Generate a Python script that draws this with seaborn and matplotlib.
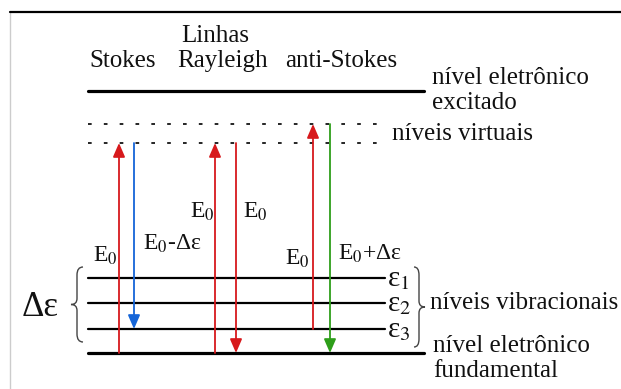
import matplotlib
matplotlib.use("Agg")
import matplotlib.pyplot as plt
from matplotlib.path import Path
from matplotlib.patches import PathPatch
from matplotlib import font_manager
import seaborn as sns
import pandas as pd

# ---------------- data (diagram units: pixels of the drawing canvas) -------------
excited_level = 91          # nível eletrônico excitado
virtual_levels = [124, 143]  # níveis virtuais
vib_levels = [278, 303, 329]  # ε1, ε2, ε3
vib_labels = ["ε$_1$", "ε$_2$", "ε$_3$"]
ground_level = 353          # nível eletrônico fundamental

# transitions: x column, start level, end level, colour, label
trans_x = [119, 134, 215, 236, 313, 330]
trans_from = [353, 143, 353, 143, 329, 124]
trans_to = [143, 329, 143, 353, 124, 353]
trans_color = ["#d7191c", "#1565d8", "#d7191c", "#d7191c", "#d7191c", "#2e9e1a"]
trans_label = ["E$_0$", "E$_0$-Δε", "E$_0$", "E$_0$", "E$_0$", "E$_0$+Δε"]

header_labels = ["Stokes", "Rayleigh", "anti-Stokes"]

# ---------------- figure ----------------------------------------------------------
sns.set_theme(style="white")
avail = {f.name for f in font_manager.fontManager.ttflist}
FAM = [f for f in ["Liberation Serif", "STIXGeneral", "DejaVu Serif"] if f in avail]
plt.rcParams["font.family"] = FAM
plt.rcParams["mathtext.fontset"] = "stix"

fig = plt.figure(figsize=(6.21, 3.89), dpi=100)
ax = fig.add_axes([0, 0, 1, 1])
ax.set_xlim(0, 621)
ax.set_ylim(389, 0)
ax.axis("off")


def txt(x, y, s, size, **kw):
    kw.setdefault("ha", "left")
    kw.setdefault("va", "baseline")
    ax.text(x, y, s, fontsize=size, family=FAM, color="#111111", **kw)


# frame (left + top only visible)
sns.lineplot(x=[10, 10], y=[12, 389], ax=ax, color="black", linewidth=1.6, sort=False)
sns.lineplot(x=[10, 621], y=[12, 12], ax=ax, color="black", linewidth=1.6, sort=False)

# electronic levels
for y in [excited_level, ground_level]:
    sns.lineplot(x=[88, 424], y=[y, y], ax=ax, color="black", linewidth=2.3)

# virtual levels (dotted)
for y in virtual_levels:
    ax.plot([88, 384], [y, y], color="black", linewidth=1.2, linestyle=(0, (2.2, 7.3)))

# vibrational levels
df_vib = pd.DataFrame({
    "x": [88, 385] * len(vib_levels),
    "y": [v for v in vib_levels for _ in range(2)],
    "lvl": [i for i in range(len(vib_levels)) for _ in range(2)],
})
sns.lineplot(data=df_vib, x="x", y="y", units="lvl", estimator=None, ax=ax,
             color="black", linewidth=1.6)

for y, lab in zip(vib_levels, vib_labels):
    txt(387, y + 8, lab, 21)

# transitions
for x, y0, y1, c in zip(trans_x, trans_from, trans_to, trans_color):
    ax.annotate("", xy=(x, y1), xytext=(x, y0),
                arrowprops=dict(arrowstyle="-|>,head_length=0.6,head_width=0.26",
                                color=c, lw=1.3, shrinkA=0, shrinkB=0,
                                mutation_scale=14))

label_pos = [(93, 262), (143, 250), (190, 218), (243, 218), (285, 265), (338, 260)]
for (lx, ly), lab in zip(label_pos, trans_label):
    txt(lx, ly, lab, 17)

# header
txt(215, 42, "Linhas", 18, ha="center")
for cx, lab in zip([123, 223, 341], header_labels):
    txt(cx, 67, lab, 18, ha="center")

# right-hand annotations
txt(432, 84, "nível eletrônico", 18)
txt(432, 109, "excitado", 18)
txt(392, 140, "níveis virtuais", 18)
txt(430, 309, "níveis vibracionais", 18)
txt(433, 352, "nível eletrônico", 18)
txt(433, 377, "fundamental", 18)

# Δε on the left
txt(22, 316, "Δε", 25)


def brace(x_arm, x_mid, x_tip, y0, y1):
    ym = (y0 + y1) / 2
    verts = [
        (x_arm, y0), (x_mid, y0), (x_mid, y0 + 8),
        (x_mid, ym - 6),
        (x_mid, ym), (x_tip, ym),
        (x_mid, ym), (x_mid, ym + 6),
        (x_mid, y1 - 8),
        (x_mid, y1), (x_arm, y1),
    ]
    codes = [Path.MOVETO, Path.CURVE3, Path.CURVE3, Path.LINETO,
             Path.CURVE3, Path.CURVE3, Path.CURVE3, Path.CURVE3,
             Path.LINETO, Path.CURVE3, Path.CURVE3]
    ax.add_patch(PathPatch(Path(verts, codes), fill=False, edgecolor="#444444", lw=1.0))


brace(83, 77, 71, 267, 342)
brace(414, 419, 425, 267, 347)

fig.savefig("out.png", dpi=100)
